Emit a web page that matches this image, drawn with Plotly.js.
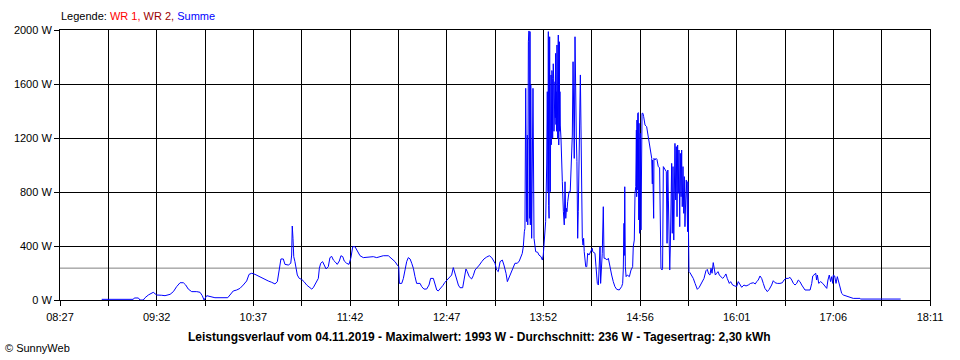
<!DOCTYPE html>
<html><head><meta charset="utf-8">
<script src="https://cdn.plot.ly/plotly-3.0.1.min.js"></script>
<style>html,body{margin:0;padding:0;background:#fff}#chart{width:960px;height:360px}</style>
</head><body><div id="chart"></div>
<script>
// time in minutes since midnight, power in W (Summe)
const minutes = [
535.0,556.2,556.9,559.6,560.7,562.9,564.1,566.3,569.6,571.9,575.3,577.5,580.9,583.1,585.3,587.6,589.8,591.4,593.1,595.4,
598.8,601.0,602.5,603.7,605.5,607.7,611.0,619.6,621.1,623.3,625.6,627.8,630.0,632.3,633.9,635.7,637.9,640.1,642.4,644.6,
646.8,649.1,651.3,652.9,654.0,655.3,656.9,658.0,660.3,661.9,662.5,662.9,663.4,663.9,664.7,665.4,666.3,667.6,669.2,670.8,
672.6,674.8,676.0,677.0,678.8,680.4,681.1,682.0,683.3,684.2,685.6,687.1,688.2,689.4,690.5,691.6,693.1,694.5,695.6,696.8,
697.8,699.4,701.0,702.3,703.5,705.0,706.6,708.4,710.6,717.3,719.6,721.8,724.0,727.4,729.7,731.9,733.4,734.4,734.8,736.4,
737.5,738.6,739.7,740.8,742.0,743.1,744.2,745.3,746.4,748.7,749.8,751.3,753.1,754.7,755.8,757.6,758.7,759.9,760.9,762.1,
763.9,765.4,767.0,768.8,769.9,771.0,772.1,773.3,774.4,775.5,777.3,778.2,779.5,780.4,781.7,783.3,784.4,785.6,786.7,788.5,
790.1,791.6,793.4,795.2,796.8,797.9,799.0,800.1,801.2,802.4,803.9,805.0,806.4,807.3,808.6,809.7,811.3,812.4,814.0,815.3,
817.3,818.0,818.7,819.1,819.6,819.8,820.3,820.7,821.0,821.4,821.8,822.3,822.5,822.7,823.0,823.2,823.4,823.6,824.5,824.7,
825.2,825.9,826.3,827.7,828.5,829.9,830.8,831.4,831.9,832.4,833.0,833.7,834.1,834.6,834.8,835.0,835.3,835.5,835.7,835.9,
836.1,836.3,836.6,836.8,837.0,837.2,837.5,837.7,837.9,838.1,838.4,838.6,838.8,839.0,839.3,839.5,839.7,839.9,840.1,840.3,
840.6,840.8,841.1,841.3,841.5,841.8,842.0,842.2,842.4,842.6,842.8,843.3,843.8,844.2,844.9,
845.3,845.5,846.0,846.5,846.9,847.3,847.8,848.7,849.5,850.0,850.5,850.9,851.4,851.8,852.2,852.7,853.2,853.6,854.0,854.5,
854.9,855.4,855.9,856.3,856.7,857.2,857.6,858.1,858.5,858.9,859.9,860.6,861.2,862.1,863.4,864.3,864.6,866.1,866.8,867.7,
868.4,868.8,869.5,869.9,870.6,871.0,871.7,872.2,873.1,874.0,875.1,876.2,877.3,878.4,879.5,880.7,882.4,884.0,884.7,885.1,
885.6,885.8,886.1,886.5,887.0,887.8,889.2,890.3,891.4,891.8,892.5,893.0,893.5,893.9,894.1,894.3,894.5,894.8,895.0,895.2,
895.5,895.7,896.1,896.5,897.0,897.7,898.3,898.8,899.2,899.7,900.8,901.5,902.4,903.0,903.5,904.2,904.6,904.8,905.5,905.7,
906.4,907.1,907.7,908.2,908.6,909.5,909.9,910.4,911.1,911.5,912.0,912.6,913.6,914.0,914.5,915.0,915.4,915.8,916.3,916.7,
917.2,917.6,918.0,918.5,919.0,919.4,919.8,920.3,920.7,921.2,921.6,922.0,922.5,923.0,923.4,923.9,924.3,924.7,925.2,925.7,
926.1,926.5,927.0,927.4,927.9,928.3,928.5,928.7,929.2,929.9,931.0,932.1,933.3,934.8,936.1,937.7,939.3,940.6,941.5,942.4,
943.3,944.0,944.7,945.5,946.0,946.9,947.8,948.7,949.6,950.5,951.8,952.9,954.0,954.9,956.3,957.2,958.5,960.0,961.2,962.3,
963.5,964.6,966.1,967.5,969.0,970.6,972.4,973.7,974.7,975.7,976.9,978.0,979.1,980.2,981.8,983.1,984.7,985.8,987.0,988.5,
990.3,991.9,993.0,994.3,995.9,997.0,998.2,999.3,1000.4,1001.5,1002.6,1003.7,1004.9,1005.9,1007.1,1010.5,1011.6,1012.3,1013.1,1014.3,
1014.9,1015.4,1016.3,1017.6,1019.0,1020.5,1021.7,1022.5,1023.4,1024.3,1025.0,1025.7,1026.1,1027.0,1027.4,1027.9,1028.8,1029.4,1030.1,1031.0,
1031.7,1032.8,1035.1,1036.8,1039.5,1044.0,1044.5,1071.3
];
const watts = [
5,5,15,15,0,0,17,37,57,37,35,32,42,62,99,128,128,111,81,62,
62,57,32,0,32,27,17,17,37,67,74,86,111,141,190,198,190,178,165,148,
141,131,119,136,210,304,304,264,259,272,333,548,457,321,284,235,185,160,153,136,
111,91,81,91,123,160,235,272,284,259,230,247,314,323,296,284,264,289,328,321,
289,272,264,314,395,395,358,328,314,321,314,321,328,328,309,284,259,247,123,123,
160,235,284,314,304,272,235,173,123,123,99,81,81,111,160,160,123,74,67,81,
106,131,148,173,185,240,198,148,111,91,91,148,230,210,173,156,180,222,235,259,
284,304,318,328,314,296,272,222,210,284,296,259,198,136,173,210,247,272,272,289,
345,395,506,531,1568,1222,580,1222,556,1914,1993,605,1988,556,1593,506,802,457,1568,481,
457,395,358,353,333,321,296,333,407,457,580,1000,1543,802,1988,700,605,1346,1950,1100,
802,1500,1667,1150,1296,1700,1642,1200,1346,1750,1642,1250,1543,1300,1617,1350,1827,1300,1543,1250,
1889,1300,1197,1790,1963,1148,1500,1913,1250,1543,1296,1197,926,876,654,
580,556,876,605,679,654,728,802,802,975,1074,1222,1765,1296,1049,1950,1346,1197,1025,457,
654,1049,1543,1667,1296,556,457,407,457,358,247,247,346,333,358,383,358,346,247,123,
111,198,395,123,296,346,691,309,309,296,309,235,185,136,99,79,74,99,123,222,
568,330,839,247,173,185,173,222,247,395,444,790,840,1259,765,1333,815,1383,741,1388,
593,1309,494,1235,519,1383,1383,1358,1333,1296,1284,1235,1173,1111,1086,1049,860,1037,605,1049,
1037,1049,1042,1000,988,980,700,235,222,235,988,975,963,951,420,963,740,247,222,395,
790,1012,494,988,444,1037,1160,741,1136,617,1148,790,1111,543,1086,765,1111,691,988,642,
914,543,815,889,741,506,877,506,210,202,185,160,123,79,94,123,160,217,227,193,
185,235,198,277,247,185,198,210,185,173,160,173,193,160,123,136,111,104,99,136,
111,94,111,104,111,123,128,119,136,148,178,160,123,86,62,79,111,143,128,123,
123,128,148,160,160,168,148,123,111,123,148,136,111,94,74,74,123,178,185,198,
148,185,123,136,123,104,86,148,185,136,173,123,185,178,136,123,173,148,111,62,
49,37,30,20,12,12,7,7
];
const tickLabels = ['08:27','09:32','10:37','11:42','12:47','13:52','14:56','16:01','17:06','18:11'];
const yTicks = [0,400,800,1200,1600,2000];
const average = 236;
const startMin = 507, endMin = 1091;

const tickvals = [], ticktext = [];
for (let i = 0; i <= 18; i++) {
  tickvals.push(startMin + i * (endMin - startMin) / 18);
  ticktext.push(i % 2 === 0 ? tickLabels[i / 2] : '');
}

const font = {family: 'Arial, "Liberation Sans", sans-serif', size: 11, color: '#000'};

Plotly.newPlot('chart', [{
  x: minutes, y: watts, type: 'scatter', mode: 'lines',
  line: {color: '#0000ff', width: 1}, hoverinfo: 'skip', showlegend: false
}], {
  width: 960, height: 360,
  margin: {l: 60, r: 30, t: 30, b: 60},
  paper_bgcolor: '#ffffff', plot_bgcolor: '#ffffff',
  font: font,
  showlegend: false,
  xaxis: {
    range: [startMin, endMin], tickvals: tickvals, ticktext: ticktext,
    showgrid: true, gridcolor: '#000', gridwidth: 1,
    showline: true, linecolor: '#000', linewidth: 1, mirror: true,
    ticks: 'outside', ticklen: 5, tickcolor: '#000', tickwidth: 1,
    zeroline: false, tickfont: font, ticklabelstandoff: 2
  },
  yaxis: {
    range: [0, 2000], tickvals: yTicks, ticktext: yTicks.map(v => v + ' W'),
    showgrid: true, gridcolor: '#000', gridwidth: 1,
    showline: true, linecolor: '#000', linewidth: 1, mirror: true,
    ticks: 'outside', ticklen: 5, tickcolor: '#000', tickwidth: 1,
    zeroline: false, tickfont: font
  },
  shapes: [{
    type: 'line', xref: 'paper', x0: 0, x1: 1, yref: 'y', y0: average, y1: average,
    line: {color: '#808080', width: 1}, layer: 'between'
  }],
  annotations: [
    {xref: 'paper', yref: 'paper', x: -0.001, y: 1.052, xanchor: 'left', yanchor: 'middle', showarrow: false,
     text: 'Legende: <span style="color:#ff0000">WR 1,</span> <span style="color:#990000">WR 2,</span> <span style="color:#0000ff">Summe</span>',
     font: font},
    {xref: 'paper', yref: 'paper', x: 0.482, y: -0.137, xanchor: 'center', yanchor: 'middle', showarrow: false,
     text: '<b>Leistungsverlauf vom 04.11.2019 - Maximalwert: 1993 W - Durchschnitt: 236 W - Tagesertrag: 2,30 kWh</b>',
     font: {family: font.family, size: 12, color: '#000'}},
    {xref: 'paper', yref: 'paper', x: -0.0655, y: -0.178, xanchor: 'left', yanchor: 'middle', showarrow: false,
     text: '© SunnyWeb', font: font}
  ]
}, {displayModeBar: false, staticPlot: true});
</script>
</body></html>
